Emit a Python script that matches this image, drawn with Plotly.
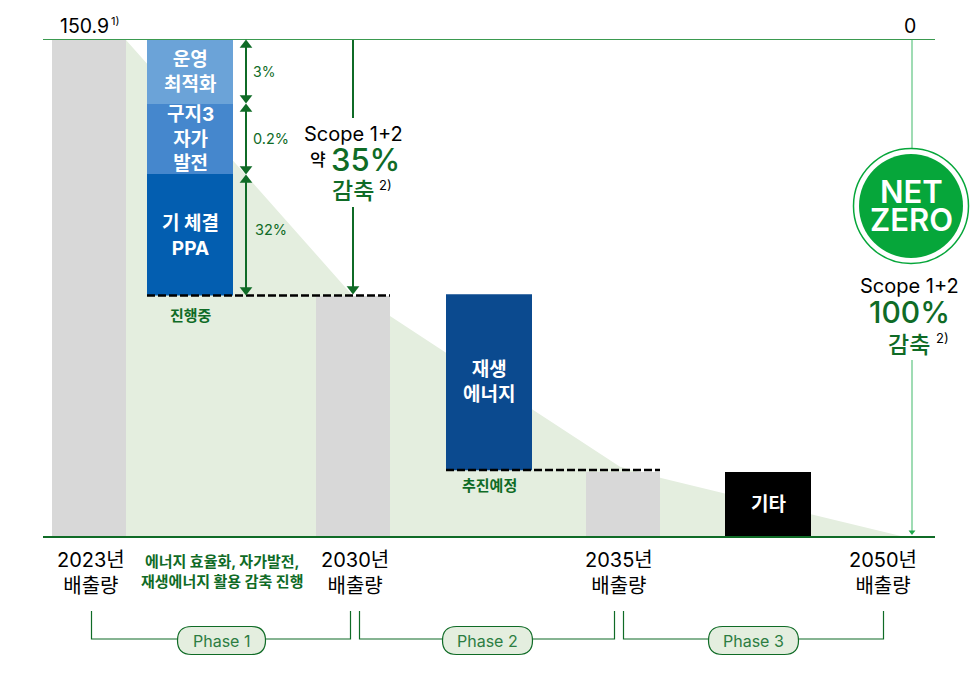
import plotly.graph_objects as go

# ---- data (emissions) ----
gray_labels = ["2023년<br>배출량", "2030년<br>배출량", "2035년<br>배출량", "2050년<br>배출량"]
gray_x = [89, 353, 623]
gray_w = [74, 74, 74]
gray_vals = [150.9, 73.2, 19.7]
stack_names = ["기 체결<br>PPA", "구지3<br>자가<br>발전", "운영<br>최적화"]
stack_vals = [36.9, 21.3, 19.4]
stack_base = [73.3, 110.2, 131.5]
stack_colors = ["#035eb0", "#4587cd", "#6ba3d8"]
renew_val = 53.4
renew_base = 20.3
other_val = 19.7
path_x = [126, 353, 390, 620, 660, 905]
path_y = [150.9, 73.2, 67.1, 21.3, 18.0, 0.0]

GREEN = "#0f6b26"
FONT = 'Inter, "Noto Sans CJK KR", sans-serif'

fig = go.Figure()
# reduction path (base axis, drawn first)
fig.add_trace(go.Scatter(x=path_x, y=path_y, fill="tozeroy", fillcolor="#e4eedf", mode="none", hoverinfo="skip"))
# bars (overlay axis with the same range, drawn above the path)
fig.add_trace(go.Bar(x=gray_x, y=gray_vals, width=gray_w, yaxis="y2", marker=dict(color="#d8d8d8", line_width=0)))
fig.add_trace(go.Bar(x=[190]*3, y=stack_vals, base=stack_base, width=86, yaxis="y2",
                     marker=dict(color=stack_colors, line_width=0)))
fig.add_trace(go.Bar(x=[489], y=[renew_val], base=[renew_base], width=86, yaxis="y2",
                     marker=dict(color="#0b4a8f", line_width=0)))
fig.add_trace(go.Bar(x=[768], y=[other_val], width=86, yaxis="y2", marker=dict(color="#000000", line_width=0)))

def seg(xs, ys, color=GREEN, width=2, dash=None):
    fig.add_trace(go.Scatter(x=xs, y=ys, yaxis="y3", mode="lines", hoverinfo="skip",
                             line=dict(color=color, width=width, dash=dash)))

def tip(x, y, symbol, size=11, color=GREEN):
    fig.add_trace(go.Scatter(x=[x], y=[y], yaxis="y3", mode="markers", hoverinfo="skip", cliponaxis=False,
                             marker=dict(symbol=symbol, size=size, color=color, line_width=0)))

# frame lines
seg([43, 935], [39.5, 39.5], "#3b9a50", 1)
seg([43, 935], [537, 537], GREEN, 2)
# dashed lines
seg([147, 390], [295.5, 295.5], "#000000", 2.5, "8px,3px")
seg([446, 660], [470, 470], "#000000", 2.5, "8px,3px")
# double arrows
for top, bot in [(41, 102), (105, 173), (176, 294)]:
    seg([246, 246], [top + 4, bot - 4], GREEN, 2)
    tip(246, top + 4, "triangle-up")
    tip(246, bot - 4, "triangle-down")
# 35 % arrow
seg([353, 353], [40, 118], GREEN, 2)
seg([353, 353], [207, 288], GREEN, 2)
tip(353, 289, "triangle-down")
# net zero line
seg([912, 912], [40, 150], "#7fd19b", 1.5)
seg([912, 912], [360, 531], "#7fd19b", 1.5)
tip(912, 532, "triangle-down", 6, "#1fa84a")
# badge
fig.add_trace(go.Scatter(x=[911], y=[206], yaxis="y3", mode="markers", hoverinfo="skip",
                         marker=dict(size=115, color="#ffffff", line=dict(color="#06a63a", width=1.5))))
fig.add_trace(go.Scatter(x=[911], y=[206], yaxis="y3", mode="markers", hoverinfo="skip",
                         marker=dict(size=104, color="#06a63a", line_width=0)))
# phase brackets
for x0, x1 in [(91.5, 350.5), (359.5, 614.5), (623.5, 883.5)]:
    seg([x0, x0, x1, x1], [611, 639, 639, 611], GREEN, 1.2)

shapes = []
for x0, x1 in [(177.5, 265.5), (442.5, 532.5), (708.5, 798.5)]:
    y0, y1, r = 626.5, 654.5, 14
    shapes.append(dict(type="path", xref="x", yref="y3", fillcolor="#e4eedf", line=dict(color=GREEN, width=1.2),
                       layer="above",
                       path=f"M{x0+r},{y0} L{x1-r},{y0} Q{x1},{y0} {x1},{y0+r} Q{x1},{y1} {x1-r},{y1} "
                            f"L{x0+r},{y1} Q{x0},{y1} {x0},{y0+r} Q{x0},{y0} {x0+r},{y0} Z"))

ann = []
def T(x, y, text, size=18, color="#000000", weight=400, xanchor="center"):
    ann.append(dict(x=x, y=y, xref="x", yref="y3", text=text, showarrow=False, xanchor=xanchor, yanchor="middle",
                    align="center", font=dict(family=FONT, size=size, color=color, weight=weight)))

T(58, 25.5, "150.9", 19.5, xanchor="left")
T(109, 21, "1)", 11, xanchor="left")
T(910, 25.5, "0", 19.5)
# bar labels
W = "#ffffff"
T(190, 71.5, stack_names[2], 19, W, 700)
T(190, 139, stack_names[1], 19, W, 700)
T(190, 236, stack_names[0], 19, W, 700)
T(489, 382, "재생<br>에너지", 19, W, 700)
T(768, 504, "기타", 19, W, 700)
# pct labels
T(264, 71.5, "3%", 14, GREEN)
T(271, 138.5, "0.2%", 14.5, GREEN)
T(271, 229.5, "32%", 14.5, GREEN)
T(190.5, 315, "진행중", 15, GREEN, 700)
T(489, 485, "추진예정", 15, GREEN, 700)
T(222, 571, "에너지 효율화, 자가발전,<br>재생에너지 활용 감축 진행", 15, GREEN, 700)
# scope 35
T(353.5, 134, "Scope 1+2", 20)
T(318, 160, "약", 17, "#000000", 500)
T(365, 159, "35%", 31, GREEN, 500)
T(353, 191, "감축", 23, GREEN, 500)
T(385, 185, "2)", 13)
# scope 100
T(909, 286, "Scope 1+2", 20)
T(909, 312, "100%", 30, GREEN, 500)
T(909, 345, "감축", 23, GREEN, 500)
T(942, 338, "2)", 13)
# badge
T(911, 191, "NET", 31, W, 600)
T(911, 219, "ZERO", 31, W, 600)
# axis labels
for x, s in zip([91, 355, 619, 883], gray_labels):
    T(x, 572.5, s, 20)
# phases
T(221.5, 640.5, "Phase 1", 16, "#2c7d42")
T(487.5, 640.5, "Phase 2", 16, "#2c7d42")
T(753.5, 640.5, "Phase 3", 16, "#2c7d42")

blank = dict(visible=False, fixedrange=True)
emis = [-44.63, 163.04]
fig.update_layout(
    width=979, height=684, margin=dict(l=0, r=0, t=0, b=0), autosize=False,
    showlegend=False, plot_bgcolor="#ffffff", paper_bgcolor="#ffffff", barmode="overlay", hovermode=False,
    font=dict(family=FONT),
    xaxis=dict(range=[0, 979], **blank),
    yaxis=dict(range=emis, **blank),
    yaxis2=dict(range=emis, overlaying="y", **blank),
    yaxis3=dict(range=[684, 0], overlaying="y", **blank),
    shapes=shapes, annotations=ann,
)
fig.write_html("out.html", config={"displayModeBar": False},
               post_script="document.body.style.margin='0';")
